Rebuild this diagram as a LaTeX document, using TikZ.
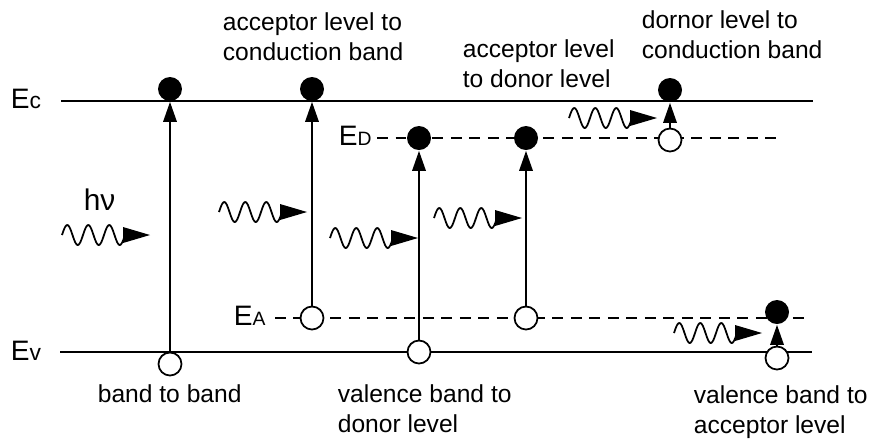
\documentclass[tikz,border=0pt]{standalone}
\usepackage{fontspec}
\setmainfont{Liberation Sans}
\usetikzlibrary{arrows.meta}

% level name: big E with a smaller letter after it
\newcommand{\enlevel}[2]{{\fontsize{16}{16}\selectfont E}{\fontsize{#2}{#2}\selectfont #1}}

\begin{document}
\begin{tikzpicture}[x=0.02cm, y=-0.02cm, line width=1pt,
	full/.style={circle, fill, inner sep=0pt, minimum size=0.48cm},
	hole/.style={circle, draw, fill=white, inner sep=0pt, minimum size=0.46cm},
	jump/.style={-{Triangle[length=0.4cm,width=0.27cm]}},
	level/.style={dash pattern=on 0.22cm off 0.15cm},
	lbl/.style={font=\fontsize{14}{17.07}\selectfont, align=left, anchor=north west, inner sep=0pt},
	photon/.pic={
		\draw[line width=1pt] plot[domain=0:3, samples=73, smooth] ({21*\x},{-10*sin(360*\x)});
		\fill (61,-8) -- (88,0) -- (61,8) -- cycle;
	}]
	
	\useasboundingbox (0,0) rectangle (872,441);
	
	% Energy levels
	\node[anchor=base west, inner sep=0pt] (Ec) at (10,108) {\enlevel{c}{13}};
	\node[anchor=base west, inner sep=0pt] (Ev) at (10,360) {\enlevel{v}{13}};
	\node[anchor=base west, inner sep=0pt] (ED) at (338,145) {\enlevel{D}{11}};
	\node[anchor=base west, inner sep=0pt] (EA) at (233,325) {\enlevel{A}{11}};
	
	\draw (61,101) -- (813,101);
	\draw (60,352) -- (812,352);
	\draw[level] (377,138) -- (778,138);
	\draw[level] (275,318) -- (810,318);
	
	% band to band
	\node[full] (f1) at (170,89) {};
	\node[hole] (h1) at (170,364) {};
	\draw[jump] (h1) -- (f1);
	
	% acceptor level to conduction band
	\node[full] (f2) at (312,89) {};
	\node[hole] (h2) at (312,318) {};
	\draw[jump] (h2) -- (f2);
	
	% valence band to donor level
	\node[full] (f3) at (419,138) {};
	\node[hole] (h3) at (419,352) {};
	\draw[jump] (h3) -- (f3);
	
	% acceptor level to donor level
	\node[full] (f4) at (526,138) {};
	\node[hole] (h4) at (526,318) {};
	\draw[jump] (h4) -- (f4);
	
	% donor level to conduction band
	\node[full] (f5) at (670,90) {};
	\node[hole] (h5) at (670,140) {};
	\draw[jump] (h5) -- (f5);
	
	% valence band to acceptor level
	\node[full] (f6) at (777,312) {};
	\node[hole] (h6) at (777,358) {};
	\draw[jump] (h6) -- (f6);
	
	% Photons
	\node[anchor=base west, inner sep=0pt, font=\fontsize{17}{17}\selectfont] (hv) at (83,210) {hν};
	\pic at (62,235) {photon};
	\pic at (219,212) {photon};
	\pic at (330,238) {photon};
	\pic at (434,218) {photon};
	\pic at (569,118) {photon};
	\pic at (674,333) {photon};
	
	% Labels
	\node[lbl, anchor=base west] (t1) at (97,402) {band to band};
	\node[lbl] (t2) at (222,12) {acceptor level to\\conduction band};
	\node[lbl] (t3) at (462,39) {acceptor level\\to donor level};
	\node[lbl] (t4) at (641,10) {dornor level to\\conduction band};
	\node[lbl] (t5) at (337,384) {valence band to\\donor level};
	\node[lbl] (t6) at (693,385) {valence band to\\acceptor level};
	
\end{tikzpicture}
\end{document}
